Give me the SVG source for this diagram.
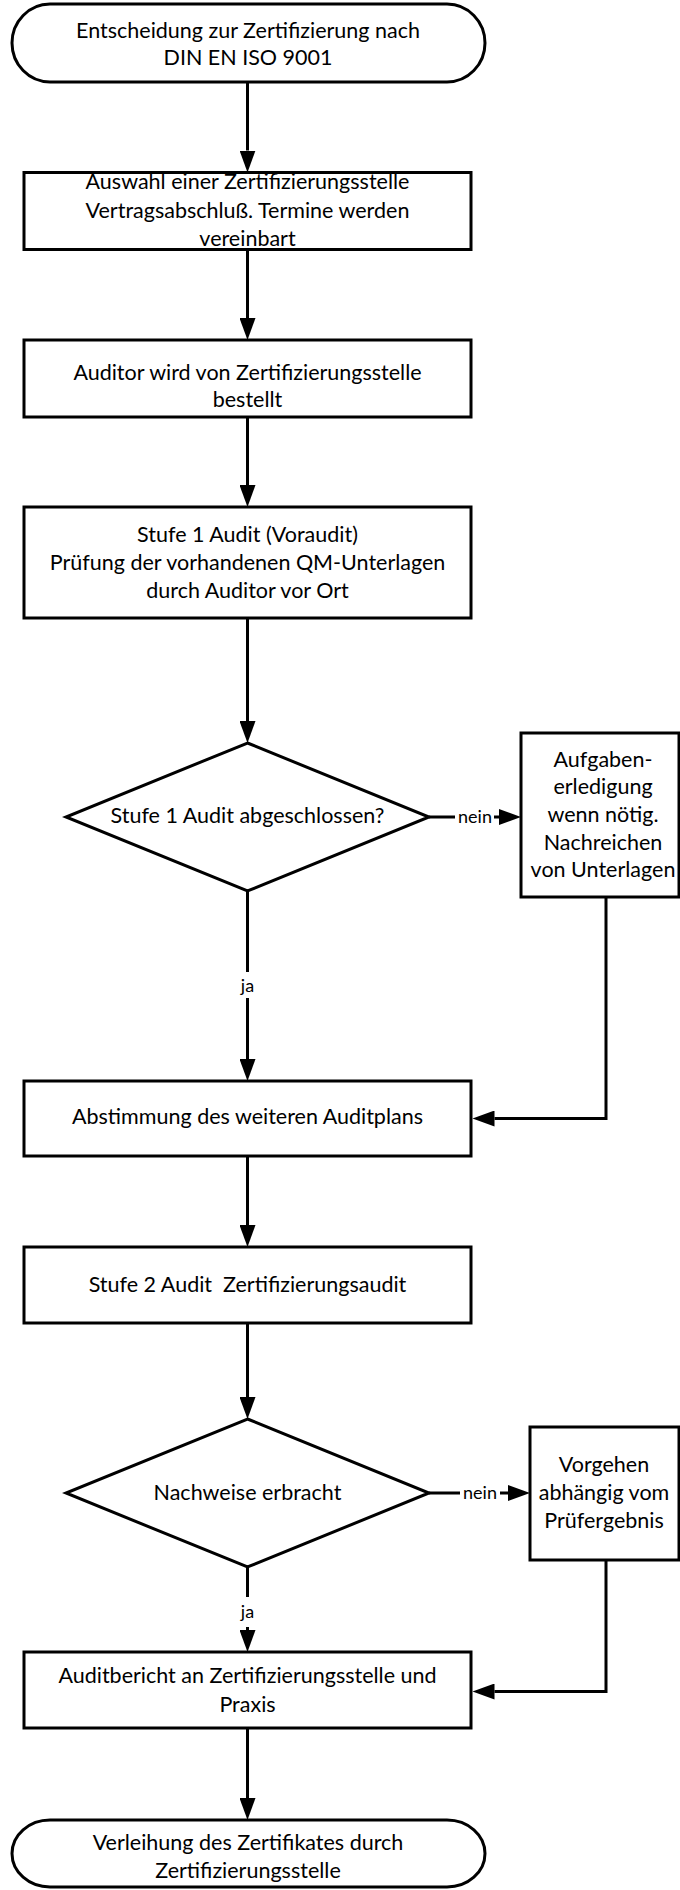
<svg xmlns="http://www.w3.org/2000/svg" width="680" height="1890" viewBox="0 0 680 1890">
<style>
.shape{fill:#fff;stroke:#000;stroke-width:3}
.con{fill:none;stroke:#000;stroke-width:3}
.t{font-family:Lato,"Open Sans","Liberation Sans",sans-serif;font-size:21.5px;fill:#000;text-anchor:middle}
.lbl{font-family:Lato,"Open Sans","Liberation Sans",sans-serif;font-size:18px;fill:#000;text-anchor:middle}
</style>
<defs>
<marker id="ah" markerUnits="userSpaceOnUse" markerWidth="23" markerHeight="16" refX="0" refY="8" orient="auto">
<path d="M0,0 L22,8 L0,16 z" fill="#000"/>
</marker>
</defs>
<rect width="680" height="1890" fill="#fff"/>
<g id="connectors">
<path class="con" d="M247.5,82 V150.5" marker-end="url(#ah)"/>
<path class="con" d="M247.5,249.5 V318" marker-end="url(#ah)"/>
<path class="con" d="M247.5,417 V485" marker-end="url(#ah)"/>
<path class="con" d="M247.5,618 V721" marker-end="url(#ah)"/>
<path class="con" d="M429,817 H455 M494,817 H499" marker-end="url(#ah)"/>
<path class="con" d="M247.5,891 V972 M247.5,998 V1059" marker-end="url(#ah)"/>
<path class="con" d="M606,897 V1118.5 H494.5" marker-end="url(#ah)"/>
<path class="con" d="M247.5,1156 V1225" marker-end="url(#ah)"/>
<path class="con" d="M247.5,1323 V1397" marker-end="url(#ah)"/>
<path class="con" d="M429,1493 H460 M500,1493 H508" marker-end="url(#ah)"/>
<path class="con" d="M247.5,1567 V1597 M247.5,1627 V1630" marker-end="url(#ah)"/>
<path class="con" d="M606,1560 V1691.5 H494.5" marker-end="url(#ah)"/>
<path class="con" d="M247.5,1728 V1798" marker-end="url(#ah)"/>
<text class="lbl" x="475" y="823">nein</text>
<text class="lbl" x="247.5" y="992">ja</text>
<text class="lbl" x="480" y="1499">nein</text>
<text class="lbl" x="247.5" y="1618">ja</text>
</g>
<g id="start">
<rect class="shape" x="12" y="4" width="473" height="78" rx="38" ry="39"/>
<text class="t" x="248" y="38">Entscheidung zur Zertifizierung nach</text>
<text class="t" x="248" y="65">DIN EN ISO 9001</text>
</g>
<g id="auswahl">
<rect class="shape" x="24" y="172.5" width="447" height="77"/>
<text class="t" x="247.5" y="189">Auswahl einer Zertifizierungsstelle</text>
<text class="t" x="247.5" y="218">Vertragsabschluß. Termine werden</text>
<text class="t" x="247.5" y="246">vereinbart</text>
</g>
<g id="auditor">
<rect class="shape" x="24" y="340" width="447" height="77"/>
<text class="t" x="247.5" y="380">Auditor wird von Zertifizierungsstelle</text>
<text class="t" x="247.5" y="407">bestellt</text>
</g>
<g id="stufe1">
<rect class="shape" x="24" y="507" width="447" height="111"/>
<text class="t" x="247.5" y="542">Stufe 1 Audit (Voraudit)</text>
<text class="t" x="247.5" y="570">Prüfung der vorhandenen QM-Unterlagen</text>
<text class="t" x="247.5" y="598">durch Auditor vor Ort</text>
</g>
<g id="decision1">
<polygon class="shape" points="247.5,743 429,817 247.5,891 66,817"/>
<text class="t" x="247.5" y="823">Stufe 1 Audit abgeschlossen?</text>
</g>
<g id="aufgaben">
<rect class="shape" x="521" y="733" width="158" height="164"/>
<text class="t" x="603" y="767">Aufgaben-</text>
<text class="t" x="603" y="794">erledigung</text>
<text class="t" x="603" y="822">wenn nötig.</text>
<text class="t" x="603" y="850">Nachreichen</text>
<text class="t" x="603" y="877">von Unterlagen</text>
</g>
<g id="abstimmung">
<rect class="shape" x="24" y="1081" width="447" height="75"/>
<text class="t" x="247.5" y="1124">Abstimmung des weiteren Auditplans</text>
</g>
<g id="stufe2">
<rect class="shape" x="24" y="1247" width="447" height="76"/>
<text class="t" x="247.5" y="1292">Stufe 2 Audit&#160; Zertifizierungsaudit</text>
</g>
<g id="decision2">
<polygon class="shape" points="247.5,1419 429,1493 247.5,1567 66,1493"/>
<text class="t" x="247.5" y="1500">Nachweise erbracht</text>
</g>
<g id="vorgehen">
<rect class="shape" x="530" y="1427" width="149" height="133"/>
<text class="t" x="604" y="1472">Vorgehen</text>
<text class="t" x="604" y="1500">abhängig vom</text>
<text class="t" x="604" y="1528">Prüfergebnis</text>
</g>
<g id="auditbericht">
<rect class="shape" x="24" y="1652" width="447" height="76"/>
<text class="t" x="247.5" y="1683">Auditbericht an Zertifizierungsstelle und</text>
<text class="t" x="247.5" y="1712">Praxis</text>
</g>
<g id="end">
<rect class="shape" x="12" y="1820" width="473" height="67" rx="38" ry="33.5"/>
<text class="t" x="248" y="1850">Verleihung des Zertifikates durch</text>
<text class="t" x="248" y="1878">Zertifizierungsstelle</text>
</g>
</svg>
